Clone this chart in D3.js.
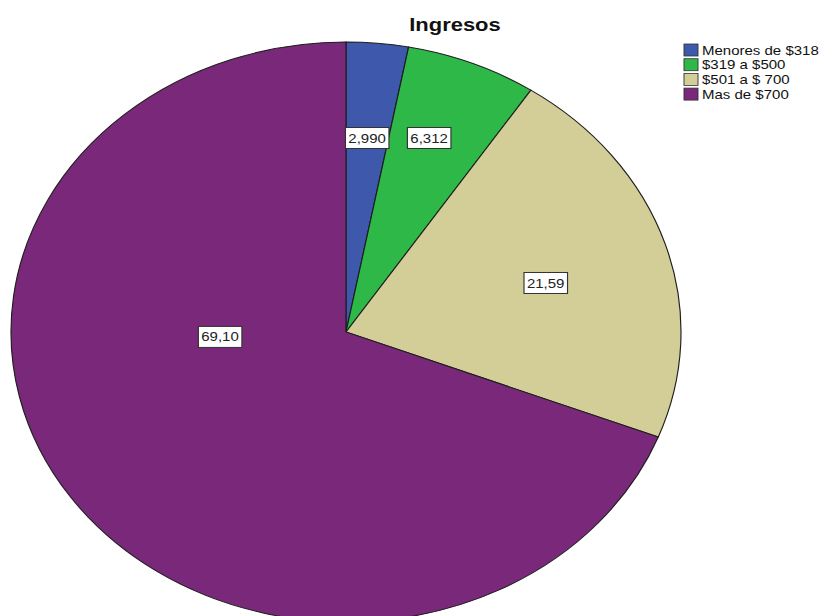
<!DOCTYPE html>
<html>
<head>
<meta charset="utf-8">
<script src="https://cdn.jsdelivr.net/npm/d3@7"></script>
<style>
  body { margin: 0; background: #fff; }
  svg { display: block; }
</style>
</head>
<body>
<div id="chart"></div>
<script>
// data
var categories = ["Menores de $318", "$319 a $500", "$501 a $ 700", "Mas de $700"]
var values = [2.990, 6.312, 21.59, 69.10]
var colors = ["#3e58ac", "#2eb848", "#d3ce97", "#7a287a"]

var width = 827
var height = 616

// the original picture is stretched sideways, so draw round and squash
var rx = 335, ry = 290
var sx = rx / ry
var cx = 346, cy = 332

// where SPSS put the value boxes, as fractions of the radii
var labelSpots = [[0.063, -0.669], [0.248, -0.669], [0.596, -0.169], [-0.376, 0.017]]

var svg = d3.select("#chart").append("svg")
  .attr("width", width)
  .attr("height", height)

var g = svg.append("g").attr("transform", "scale(" + sx + ",1)")

var slices = categories.map(function(c, i) {
  return { name: c, value: values[i], color: colors[i], spot: labelSpots[i] }
})

var pie = d3.pie().sort(null).value(function(d) { return d.value })
var arc = d3.arc().innerRadius(0).outerRadius(ry)

var pieG = g.append("g").attr("transform", "translate(" + (cx / sx) + "," + cy + ")")

pieG.selectAll("path")
  .data(pie(slices))
  .enter().append("path")
  .attr("d", arc)
  .attr("fill", function(d) { return d.data.color })
  .attr("stroke", "#1e1e1e")
  .attr("stroke-width", 1)

var fmt = d3.format(".4r")

var labels = pieG.selectAll("g.lbl")
  .data(slices)
  .enter().append("g")
  .attr("class", "lbl")
  .attr("transform", function(d) {
    return "translate(" + (d.spot[0] * ry) + "," + (d.spot[1] * ry) + ")"
  })

labels.append("text")
  .text(function(d) { return fmt(d.value).replace(".", ",") })
  .attr("text-anchor", "middle")
  .attr("dy", "0.35em")
  .attr("font-family", "Arial, 'Liberation Sans', sans-serif")
  .attr("font-size", 13)
  .attr("fill", "#222")

labels.each(function() {
  var grp = d3.select(this)
  var bb = grp.select("text").node().getBBox()
  grp.insert("rect", "text")
    .attr("x", bb.x - 2.5)
    .attr("y", -10.5)
    .attr("width", bb.width + 5)
    .attr("height", 21)
    .attr("fill", "#fff")
    .attr("stroke", "#333")
    .attr("stroke-width", 1)
})

// title
g.append("text")
  .text("Ingresos")
  .attr("x", 455 / sx)
  .attr("y", 31)
  .attr("text-anchor", "middle")
  .attr("font-family", "Arial, 'Liberation Sans', sans-serif")
  .attr("font-weight", "bold")
  .attr("font-size", 19)
  .attr("fill", "#111")

// legend
var legend = g.append("g").attr("transform", "translate(" + (684 / sx) + ",44)")

var rows = legend.selectAll("g")
  .data(slices)
  .enter().append("g")
  .attr("transform", function(d, i) { return "translate(0," + (i * 14.7) + ")" })

rows.append("rect")
  .attr("width", 14 / sx)
  .attr("height", 12)
  .attr("fill", function(d) { return d.color })
  .attr("stroke", "#333")
  .attr("stroke-width", 0.8)

rows.append("text")
  .text(function(d) { return d.name })
  .attr("x", 18 / sx)
  .attr("y", 6)
  .attr("dy", "0.35em")
  .attr("font-family", "Arial, 'Liberation Sans', sans-serif")
  .attr("font-size", 13)
  .attr("fill", "#111")
</script>
</body>
</html>
